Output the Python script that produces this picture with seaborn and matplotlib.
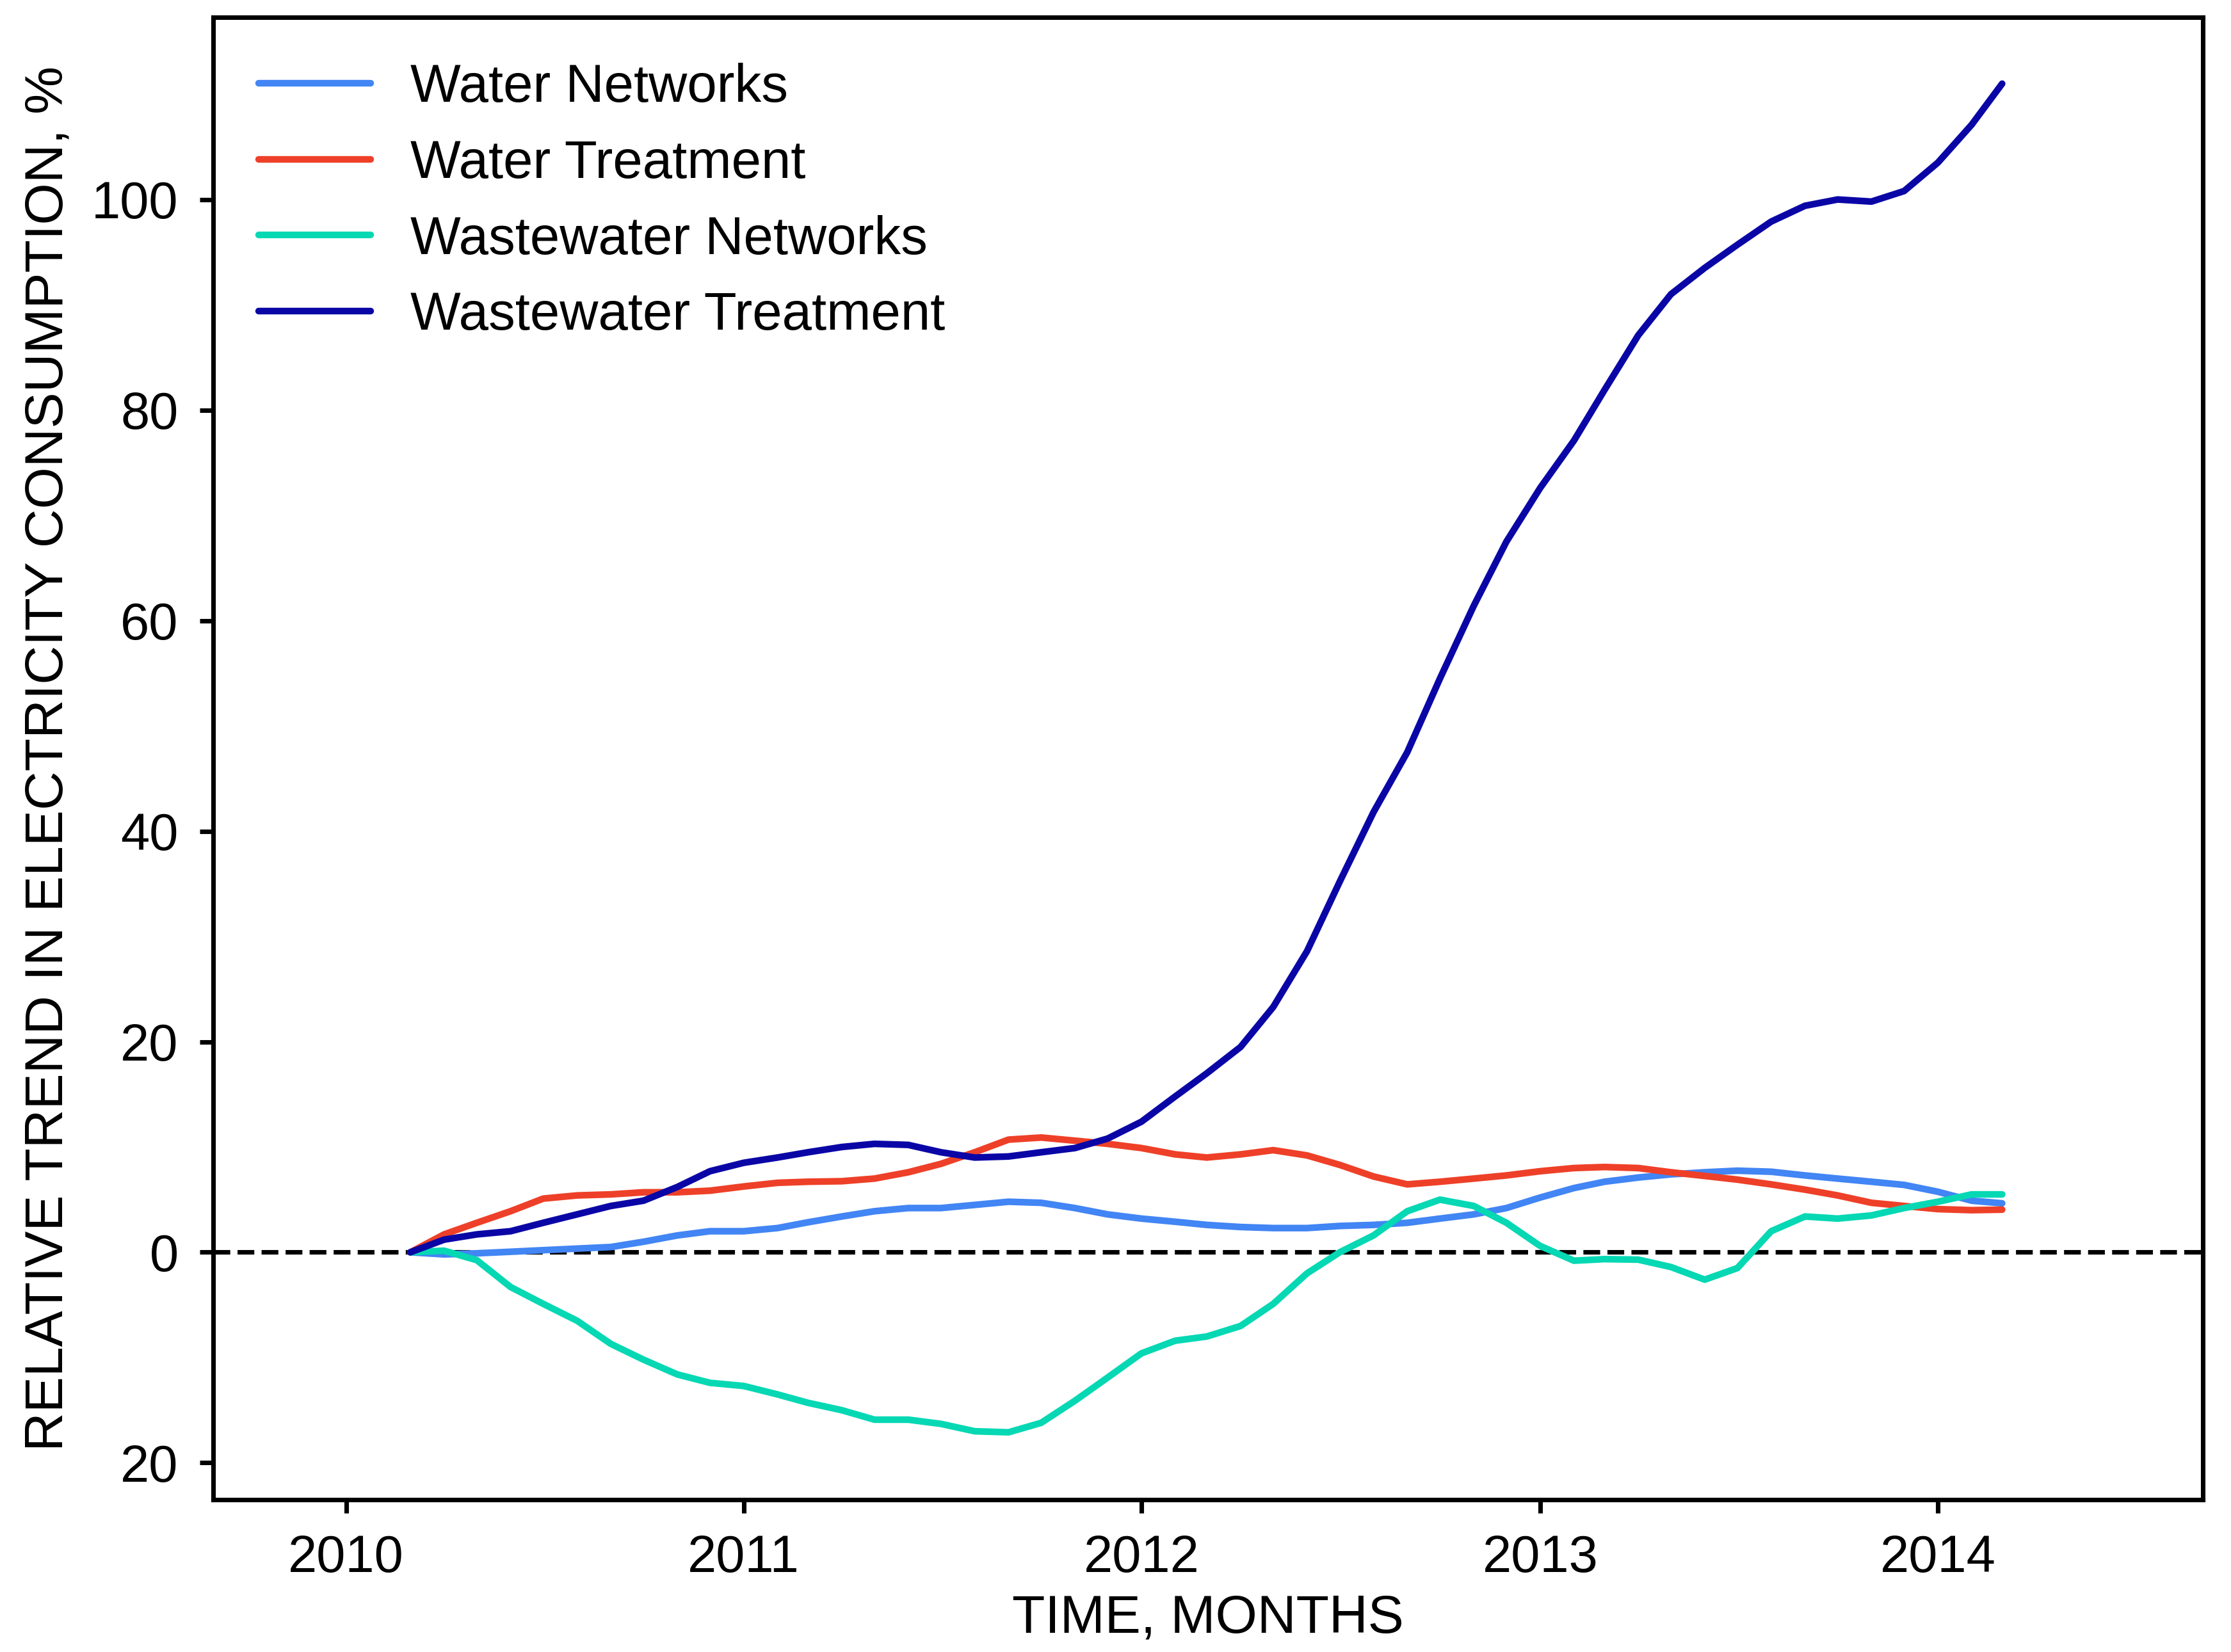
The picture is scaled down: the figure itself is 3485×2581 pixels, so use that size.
import numpy as np
import pandas as pd
import matplotlib
matplotlib.use("Agg")
import matplotlib.pyplot as plt
import matplotlib.dates as mdates
import seaborn as sns

# ---- data (monthly, Mar 2010 .. Mar 2014) ----
start_month = "2010-03-01"
n_months = 49

water_networks = [0.0, -0.2, -0.1, 0.05, 0.2, 0.35, 0.5, 1.0, 1.6, 2.0, 2.0, 2.3, 2.85,
                  3.4, 3.9, 4.2, 4.2, 4.5, 4.8, 4.7, 4.2, 3.6, 3.2, 2.9, 2.6,
                  2.4, 2.3, 2.3, 2.5, 2.6, 2.8, 3.2, 3.6, 4.2, 5.2, 6.1, 6.7,
                  7.1, 7.4, 7.6, 7.75, 7.65, 7.3, 7.0, 6.7, 6.4, 5.75, 4.9, 4.65]
water_treatment = [0.0, 1.7, 2.8, 3.9, 5.1, 5.4, 5.5, 5.7, 5.7, 5.85, 6.25, 6.6, 6.7,
                   6.75, 7.0, 7.6, 8.4, 9.5, 10.7, 10.9, 10.6, 10.3, 9.9, 9.3, 9.0,
                   9.3, 9.7, 9.2, 8.3, 7.2, 6.45, 6.7, 7.0, 7.3, 7.7, 8.0, 8.1,
                   8.0, 7.6, 7.25, 6.9, 6.45, 5.95, 5.4, 4.7, 4.4, 4.1, 4.0, 4.05]
wastewater_networks = [0.0, 0.15, -0.75, -3.3, -4.9, -6.5, -8.7, -10.2, -11.6, -12.4, -12.7, -13.5, -14.3,
                       -15.0, -15.9, -15.9, -16.3, -17.0, -17.1, -16.2, -14.1, -11.9, -9.6, -8.4, -8.0,
                       -7.0, -4.9, -2.0, 0.0, 1.6, 3.9, 5.0, 4.4, 2.8, 0.6, -0.8, -0.65,
                       -0.7, -1.4, -2.6, -1.5, 2.0, 3.4, 3.2, 3.5, 4.2, 4.8, 5.5, 5.5]
wastewater_treatment = [0.0, 1.2, 1.7, 2.0, 2.8, 3.6, 4.4, 4.9, 6.2, 7.7, 8.5, 9.0, 9.5,
                        10.0, 10.3, 10.2, 9.5, 9.0, 9.1, 9.5, 9.9, 10.8, 12.4, 14.8, 17.0,
                        19.5, 23.3, 28.6, 35.2, 41.8, 47.5, 54.5, 61.4, 67.5, 72.6, 77.1, 81.9,
                        87.1, 91.0, 93.5, 95.7, 97.9, 99.4, 100.0, 99.8, 100.8, 103.5, 107.1, 111.0]

series_names = ["Water Networks", "Water Treatment", "Wastewater Networks", "Wastewater Treatment"]
series_colors = ["#4285F4", "#EE4028", "#06D8B4", "#0A06A6"]

ytick_values = [-20, 0, 20, 40, 60, 80, 100]
ytick_labels = ["20", "0", "20", "40", "60", "80", "100"]
xtick_years = [2010, 2011, 2012, 2013, 2014]

# ---- build long table ----
dates = pd.date_range(start_month, periods=n_months, freq="MS")
frames = []
for name, vals in zip(series_names, [water_networks, water_treatment,
                                      wastewater_networks, wastewater_treatment]):
    frames.append(pd.DataFrame({"date": dates, "value": vals, "series": name}))
df = pd.concat(frames, ignore_index=True)

# ---- style ----
sns.set_theme(style="ticks")
plt.rcParams["font.family"] = ["Liberation Sans", "DejaVu Sans"]
plt.rcParams.update({
    "axes.edgecolor": "black",
    "axes.linewidth": 1.7,
    "xtick.color": "black",
    "ytick.color": "black",
    "xtick.major.width": 1.7,
    "ytick.major.width": 1.7,
    "xtick.major.size": 5,
    "ytick.major.size": 5,
    "text.color": "black",
    "axes.labelcolor": "black",
})

fig = plt.figure(figsize=(3486 / 300, 2581 / 300), dpi=300)
ax = fig.add_axes([0.0955, 0.0922, 0.987 - 0.0955, 0.9895 - 0.0922])

ax.axhline(0, color="black", lw=1.7, ls="--", zorder=1)

sns.lineplot(data=df, x="date", y="value", hue="series", hue_order=series_names,
             palette=dict(zip(series_names, series_colors)), linewidth=2.5,
             ax=ax, zorder=2)

ax.set_xlim(pd.Timestamp("2009-09-01"), pd.Timestamp("2014-09-01"))
ax.set_ylim(-23.5, 117.3)

ax.set_xticks([pd.Timestamp(f"{y}-01-01") for y in xtick_years])
ax.xaxis.set_major_formatter(mdates.DateFormatter("%Y"))
ax.set_yticks(ytick_values, labels=ytick_labels)
ax.tick_params(axis="both", labelsize=19.5, pad=8)

for s in ["top", "right", "left", "bottom"]:
    ax.spines[s].set_visible(True)
    ax.spines[s].set_color("black")
    ax.spines[s].set_linewidth(1.7)

ax.set_xlabel("TIME, MONTHS", fontsize=20.2, labelpad=4)
ax.set_ylabel("RELATIVE TREND IN ELECTRICITY CONSUMPTION, %", fontsize=20.2, labelpad=7)

leg = ax.legend(loc="upper left", frameon=False, fontsize=20, handlelength=2.1,
                handletextpad=0.75, labelspacing=0.49, borderaxespad=0.45)
for line in leg.get_lines():
    line.set_linewidth(2.5)

fig.savefig("out.png", dpi=300)
